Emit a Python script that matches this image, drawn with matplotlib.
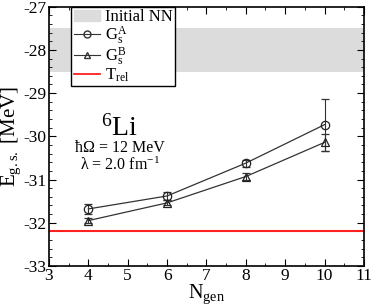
import numpy as np
import matplotlib.pyplot as plt
from matplotlib.patches import Patch
from matplotlib.lines import Line2D
from matplotlib.ticker import MultipleLocator

plt.rcParams['font.family'] = ['Liberation Serif', 'DejaVu Serif']
plt.rcParams['mathtext.fontset'] = 'custom'
plt.rcParams['mathtext.rm'] = 'Liberation Serif'
plt.rcParams['mathtext.it'] = 'Liberation Serif'
plt.rcParams['axes.unicode_minus'] = False

# data
n_gen = [4, 6, 8, 10]
e_a = [-31.68, -31.38, -30.62, -29.73]
err_a = [0.12, 0.10, 0.08, 0.60]
e_b = [-31.95, -31.54, -30.93, -30.14]
err_b = [0.05, 0.06, 0.07, 0.20]
band_lo, band_hi = -28.5, -27.5
t_rel = -32.18

fig = plt.figure(figsize=(3.74, 3.05), dpi=100)
ax = fig.add_axes([0.131, 0.128, 0.842, 0.85])

ax.axhspan(band_lo, band_hi, color='#dcdcdc', lw=0)
ax.axhline(t_rel, color='#ff2020', lw=1.5)
ax.errorbar(n_gen, e_a, yerr=err_a, color='#333333', lw=0.9, marker='o', ms=6,
            mfc='none', mec='#222222', mew=0.9, capsize=3, elinewidth=0.8)
ax.errorbar(n_gen, e_b, yerr=err_b, color='#333333', lw=0.9, marker='^', ms=6,
            mfc='none', mec='#222222', mew=0.9, capsize=3, elinewidth=0.8)

ax.set_xlim(3, 11)
ax.set_ylim(-33, -27)
ax.xaxis.set_major_locator(MultipleLocator(1))
ax.xaxis.set_minor_locator(MultipleLocator(0.5))
ax.yaxis.set_major_locator(MultipleLocator(1))
ax.yaxis.set_minor_locator(MultipleLocator(0.2))
ax.tick_params(which='both', direction='in', top=True, right=True, labelsize=12.5)
ax.tick_params(which='major', length=5)
ax.tick_params(which='minor', length=2.5)
ax.tick_params(axis='x', pad=1.5)
ax.tick_params(axis='y', pad=2)
for s in ax.spines.values():
    s.set_linewidth(1.2)

ax.set_xlabel(r'N$_{\mathrm{gen}}$', fontsize=14.5, labelpad=-1)
ax.set_ylabel(r'E$_{\mathrm{g.s.}}$ [MeV]', fontsize=15, labelpad=0)

ax.text(4.8, -29.81, r'$^{6}$Li', fontsize=20, ha='center', va='center')
ax.text(4.8, -30.26, r'ħΩ = 12 MeV', fontsize=11.5, ha='center', va='center')
ax.text(4.8, -30.68, r'λ = 2.0 fm$^{-1}$', fontsize=11.5, ha='center', va='center')

handles = [
    Patch(color='#dcdcdc'),
    Line2D([], [], color='#333333', marker='o', mfc='none', ms=5, lw=0.8),
    Line2D([], [], color='#333333', marker='^', mfc='none', ms=5, lw=0.8),
    Line2D([], [], color='#ff2020', lw=1.3),
]
labels = ['Initial NN', r'G$_{\mathrm{s}}^{\mathrm{A}}$', r'G$_{\mathrm{s}}^{\mathrm{B}}$',
          r'T$_{\mathrm{rel}}$']
leg = ax.legend(handles, labels, loc='upper left', bbox_to_anchor=(0.07, 1.0),
                fontsize=12, frameon=True, fancybox=False, edgecolor='black',
                framealpha=1, borderpad=0.15, labelspacing=-0.05, handlelength=1.6,
                handletextpad=0.3, borderaxespad=0.0)
leg.get_frame().set_linewidth(1.0)

fig.savefig('out.png', dpi=100)
